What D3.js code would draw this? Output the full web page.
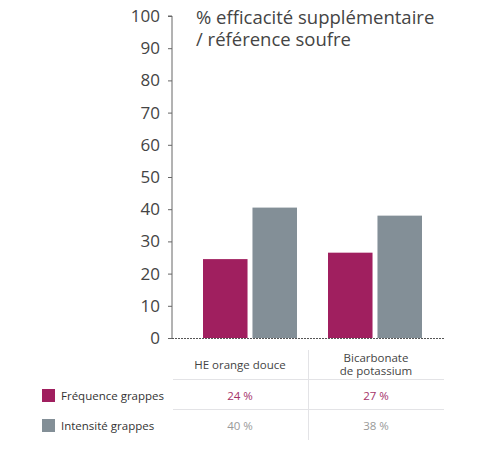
<!DOCTYPE html>
<html><head><meta charset="utf-8">
<script src="https://cdn.jsdelivr.net/npm/d3@7"></script>
<style>body{margin:0;background:#fff}text{font-family:"Open Sans",sans-serif}</style>
</head><body><svg id="chart" width="483" height="453"></svg>
<script>
const categories = ['HE orange douce', 'Bicarbonate|de potassium'];
const series = ['Fréquence grappes', 'Intensité grappes'];
const frequence = [24.5, 26.5];
const intensite = [40.5, 38];
const frequenceLabels = ['24 %', '27 %'];
const intensiteLabels = ['40 %', '38 %'];
const yTicks = [0, 10, 20, 30, 40, 50, 60, 70, 80, 90, 100];
const colors = ['#a01f5f', '#838f97'];

const svg = d3.select('#chart');
const y = d3.scaleLinear().domain([0, 100]).range([338, 16]);
const x0 = d3.scaleBand().domain(categories).range([178, 428]).paddingInner(0).paddingOuter(0);
const x1 = d3.scaleBand().domain([0, 1]).range([25, 119]).paddingInner(0.1);

// y axis
svg.append('g')
  .attr('transform', 'translate(172,0)')
  .call(d3.axisLeft(y).tickValues(yTicks).tickSize(4).tickPadding(8))
  .call(g => g.select('.domain').attr('stroke', '#666').attr('d', 'M-4,16H0V338'))
  .call(g => g.selectAll('.tick line').attr('stroke', '#666'))
  .call(g => g.selectAll('.tick text').attr('font-size', 17).attr('fill', '#444').attr('font-family', 'Open Sans'));

// bars
[frequence, intensite].forEach((vals, s) => {
  svg.append('g').selectAll('rect').data(vals).join('rect')
    .attr('x', (d, i) => x0(categories[i]) + x1(s))
    .attr('width', x1.bandwidth())
    .attr('y', d => y(d))
    .attr('height', d => y(0) - y(d))
    .attr('fill', colors[s]);
});

// baseline
svg.append('line').attr('x1', 172).attr('x2', 444).attr('y1', 338.5).attr('y2', 338.5)
  .attr('stroke', '#555').attr('stroke-dasharray', '2,1');

// title
svg.append('text').attr('x', 196).attr('y', 24).attr('font-size', 18.5).attr('fill', '#444').text('% efficacité supplémentaire');
svg.append('text').attr('x', 196).attr('y', 46).attr('font-size', 18.5).attr('fill', '#444').text('/ référence soufre');

// table
const grid = '#e3e3e6';
svg.append('line').attr('x1', 308.5).attr('x2', 308.5).attr('y1', 350).attr('y2', 440).attr('stroke', grid);
[379.5, 409.5].forEach(v => svg.append('line').attr('x1', 173).attr('x2', 444).attr('y1', v).attr('y2', v).attr('stroke', grid));
const colX = [240, 376];
categories.forEach((c, i) => {
  const lines = c.split('|');
  const t = svg.append('text').attr('text-anchor', 'middle').attr('font-size', 11.5).attr('fill', '#444');
  lines.forEach((l, j) => t.append('tspan').attr('x', colX[i])
    .attr('y', lines.length === 1 ? 369 : 362 + j * 13).text(l));
});
[frequenceLabels, intensiteLabels].forEach((labs, s) => {
  const yy = 400 + s * 30;
  svg.append('rect').attr('x', 42).attr('y', yy - 11).attr('width', 13).attr('height', 13).attr('fill', colors[s]);
  svg.append('text').attr('x', 61).attr('y', yy).attr('font-size', 11.5).attr('fill', '#333').text(series[s]);
  labs.forEach((l, i) => svg.append('text').attr('x', colX[i]).attr('y', yy).attr('text-anchor', 'middle')
    .attr('font-size', 11.5).attr('fill', s === 0 ? '#a5336a' : '#999').text(l));
});
</script></body></html>
